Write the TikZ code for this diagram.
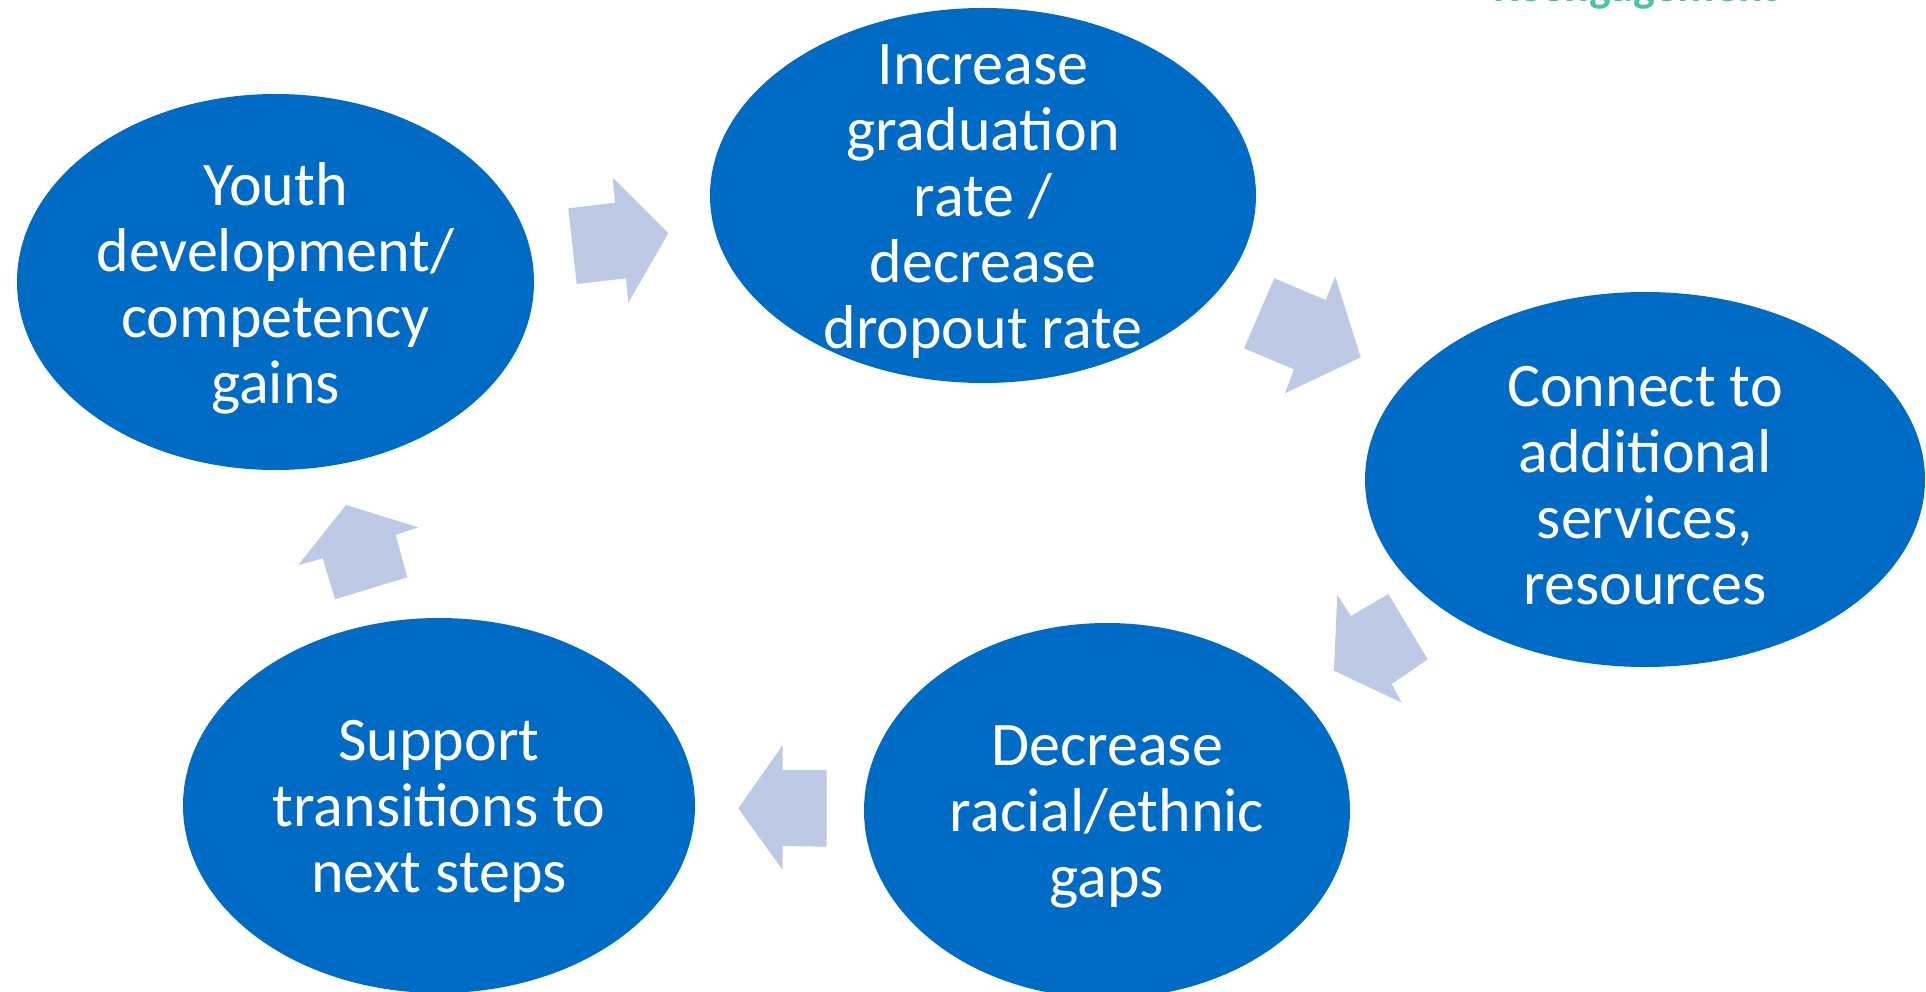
\documentclass[tikz,border=0pt]{standalone}
\usepackage{fontspec}
\setmainfont{Carlito}
\usetikzlibrary{shapes.geometric}
\definecolor{blobblue}{HTML}{006BC4}
\definecolor{arrowblue}{HTML}{BDC9E5}
\definecolor{tealtext}{HTML}{4CC3A8}
\tikzset{
  blob/.style={ellipse, fill=blobblue, draw=none, inner sep=0pt},
  blobtext/.style={text=white, align=center, inner sep=0pt, font=\fontsize{62}{66}\selectfont},
  blockarrow/.style={fill=arrowblue, draw=none}
}
\begin{document}
\begin{tikzpicture}[x=1pt, y=-1pt]
\useasboundingbox (0,0) rectangle (1926,992);
% ellipses
\node[blob, minimum width=517pt, minimum height=376pt] (youth) at (275.5,282) {};
\node[blob, minimum width=546pt, minimum height=375pt] (inc) at (983,195.5) {};
\node[blob, minimum width=560pt, minimum height=375pt] (conn) at (1645,479.5) {};
\node[blob, minimum width=486pt, minimum height=375pt] (decr) at (1107,810.5) {};
\node[blob, minimum width=512pt, minimum height=375pt] (supp) at (439,805.5) {};
% texts
\node[blobtext] (youthT) at ([yshift=-6pt]youth.center) {Youth\\development/\\competency\\gains};
\node[blobtext] (incT) at ([yshift=-6pt]inc.center) {Increase\\graduation\\rate /\\decrease\\dropout rate};
\node[blobtext] (connT) at ([yshift=-6pt]conn.center) {Connect to\\additional\\services,\\resources};
\node[blobtext] (decrT) at ([yshift=-6pt]decr.center) {Decrease\\racial/ethnic\\gaps};
\node[blobtext] (suppT) at ([yshift=-6pt]supp.center) {Support\\transitions to\\next steps};
% block arrows
\fill[blockarrow] (568.3,208.3) -- (615,202.7) -- (612.7,177.7) -- (668.3,233.3) -- (628.3,302.7) -- (626,278.3) -- (576.7,284) -- cycle;
\fill[blockarrow] (1274.3,278.3) -- (1325.7,300) -- (1335.3,276.7) -- (1360.7,357.3) -- (1285,393.3) -- (1294,369.3) -- (1244,348.3) -- cycle;
\fill[blockarrow] (1337.3,595) -- (1351,616) -- (1388.3,594) -- (1427.7,659.3) -- (1391.7,684) -- (1401.7,702.7) -- (1334,670.7) -- cycle;
\fill[blockarrow] (826.7,770) -- (782.7,770) -- (782.7,745) -- (738.3,808.3) -- (782.7,870) -- (782.7,846) -- (826.7,846.7) -- cycle;
\fill[blockarrow] (346,505) -- (418.3,527.3) -- (395.7,535) -- (407.3,577.3) -- (335,599.3) -- (322.7,558.3) -- (298.3,565) -- cycle;
% cut-off heading
\node[anchor=base, inner sep=0pt, text=tealtext, font=\bfseries\fontsize{46}{54}\selectfont] (head) at (1636,2) {Reengagement};
\end{tikzpicture}
\end{document}
